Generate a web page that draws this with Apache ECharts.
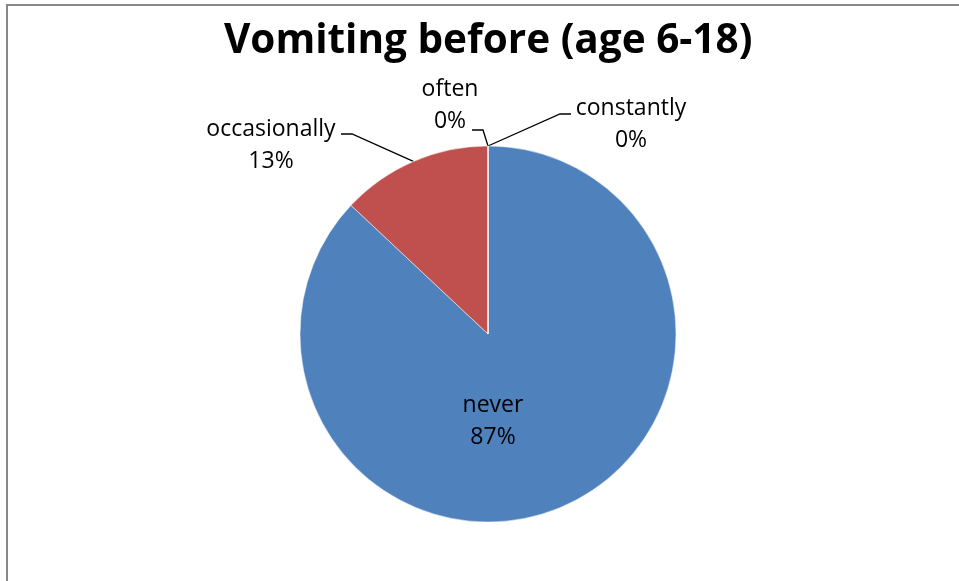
<!DOCTYPE html>
<html>
<head>
<meta charset="utf-8">
<script src="https://cdn.jsdelivr.net/npm/echarts@6/dist/echarts.min.js"></script>
<style>html,body{margin:0;padding:0;background:#fff;}#c{width:959px;height:581px;}</style>
</head>
<body>
<div id="c"></div>
<script>
const titleText = 'Vomiting before (age 6-18)';
const categories = ['never', 'occasionally', 'often', 'constantly'];
const values = [87, 13, 0, 0];
const colors = ['#4F81BD', '#C0504D', '#9BBB59', '#8064A2'];

// label placement (center x, middle y) and leader-line bends
const labelPos = [
  {x: 493, y: 421},
  {x: 271, y: 145},
  {x: 450, y: 105},
  {x: 631, y: 124}
];
const leaderBends = [
  null,
  [[352, 134], [341, 134]],
  [[483, 130], [472, 130]],
  [[560, 114], [571, 114]]
];

const chart = echarts.init(document.getElementById('c'), null, {renderer: 'canvas'});
const font = 'Open Sans';
chart.setOption({
  animation: false,
  backgroundColor: '#fff',
  title: {
    text: titleText,
    left: 219,
    top: 16,
    textStyle: {fontFamily: font, fontWeight: 'bold', fontSize: 40.5, color: '#000'}
  },
  graphic: [{
    type: 'rect',
    shape: {x: 7, y: 5, width: 1200, height: 1000},
    style: {fill: 'none', stroke: '#888888', lineWidth: 2},
    silent: true
  }],
  series: [{
    type: 'pie',
    center: [488, 334],
    radius: 188,
    startAngle: 90,
    clockwise: true,
    avoidLabelOverlap: false,
    minShowLabelAngle: 0,
    itemStyle: {borderColor: '#fff', borderWidth: 0.5},
    label: {
      show: true,
      position: 'outside',
      formatter: p => p.name + '\n' + Math.round(p.percent) + '%',
      fontFamily: font,
      fontSize: 23,
      lineHeight: 32,
      color: '#000',
      align: 'center'
    },
    labelLine: {show: true, length: 10, length2: 10, lineStyle: {color: '#000', width: 1.3}},
    labelLayout: function (params) {
      const i = params.dataIndex;
      const pos = labelPos[i];
      const res = {x: pos.x, y: pos.y, align: 'center', verticalAlign: 'middle'};
      if (leaderBends[i] && params.labelLinePoints) {
        res.labelLinePoints = [params.labelLinePoints[0]].concat(leaderBends[i]);
      }
      return res;
    },
    data: categories.map((c, i) => ({
      name: c,
      value: values[i],
      itemStyle: {color: colors[i]},
      label: i === 0 ? {position: 'inside'} : {},
      labelLine: i === 0 ? {show: false} : {show: true}
    }))
  }]
});
</script>
</body>
</html>
